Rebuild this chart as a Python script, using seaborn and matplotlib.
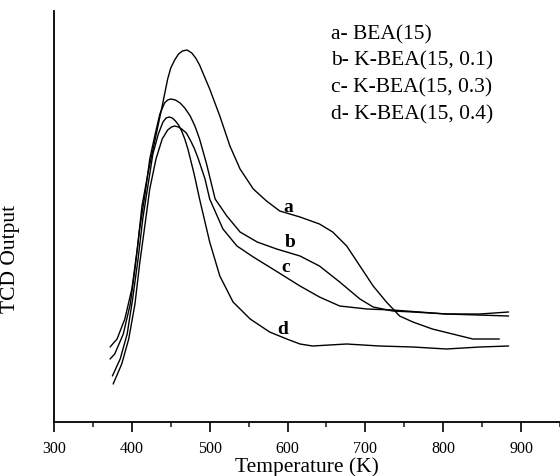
import matplotlib
matplotlib.use("Agg")
import matplotlib.pyplot as plt
import seaborn as sns
import pandas as pd
from matplotlib.ticker import MultipleLocator

T_a = [372, 381, 391, 400, 407, 413, 421, 430, 439, 446, 450, 455, 460, 465, 471, 477, 482, 487,
       500, 513, 526, 539, 556, 573, 590, 616, 641, 658, 676, 693, 710, 727, 744, 761, 786, 812,
       838, 856, 872]
S_a = [75, 83, 103, 133, 173, 216, 250, 283, 316, 343, 354, 362, 368, 371, 372, 369, 364, 357,
       333, 306, 276, 253, 233, 221, 211, 205, 198, 190, 176, 156, 136, 120, 106, 100, 93, 88,
       83, 83, 83]

T_b = [372, 378, 389, 398, 404, 410, 417, 423, 430, 436, 442, 446, 450, 456, 462, 468, 475, 481,
       487, 496, 507, 522, 539, 561, 586, 616, 641, 667, 693, 710, 735, 761, 804, 847, 884]
S_b = [63, 68, 88, 118, 153, 193, 228, 263, 288, 308, 319, 322, 323, 322, 319, 314, 306, 296,
       283, 258, 223, 206, 190, 180, 173, 166, 156, 140, 123, 115, 111, 110, 108, 108, 110]

T_c = [376, 387, 396, 404, 410, 417, 423, 431, 439, 446, 451, 455, 460, 464, 470, 475, 480, 485,
       494, 500, 517, 535, 556, 581, 616, 641, 667, 702, 735, 804, 884]
S_c = [38, 58, 83, 118, 158, 198, 233, 263, 283, 292, 295, 296, 295, 293, 289, 282, 274, 264,
       243, 223, 193, 176, 165, 153, 136, 125, 116, 113, 112, 108, 106]

T_d = [375, 385, 394, 401, 408, 414, 421, 427, 434, 440, 444, 448, 452, 456, 460, 464, 468, 472,
       480, 487, 500, 513, 530, 552, 577, 599, 616, 632, 676, 718, 761, 804, 847, 884]
S_d = [46, 63, 88, 123, 163, 203, 238, 268, 288, 300, 304, 305, 304, 301, 297, 291, 283, 273,
       248, 223, 180, 146, 120, 103, 90, 83, 78, 76, 78, 76, 75, 73, 75, 76]

legend_lines = ["a- BEA(15)", "b- K-BEA(15, 0.1)", "c- K-BEA(15, 0.3)", "d- K-BEA(15, 0.4)"]
curve_letters = ["a", "b", "c", "d"]
letter_pos_T = [601, 603, 598, 594]
letter_pos_S = [216, 180, 156, 94]

x_ticks = [300, 400, 500, 600, 700, 800, 900]

sns.set_theme(style="white")
plt.rcParams["font.family"] = ["Liberation Serif", "DejaVu Serif"]

fig = plt.figure(figsize=(5.6, 4.77), dpi=100)
ax = fig.add_axes([54 / 560, 54 / 477, 1 - 54 / 560, 411 / 477])

curves = [(T_a, S_a), (T_b, S_b), (T_c, S_c), (T_d, S_d)]
for (tx, sy), lab in zip(curves, curve_letters):
    df = pd.DataFrame({"T": tx, "S": sy})
    sns.lineplot(data=df, x="T", y="S", ax=ax, color="black", linewidth=1.0, estimator=None)

for lab, tx, sy in zip(curve_letters, letter_pos_T, letter_pos_S):
    ax.text(tx, sy, lab, fontsize=14, fontweight="bold", ha="center", va="center", color="black")

for i, line in enumerate(legend_lines):
    ax.text(0.547, 0.945 - i * 0.065, line, transform=ax.transAxes, fontsize=15.5,
            ha="left", va="center", color="black")

ax.set_xlim(300, 950)
ax.set_ylim(0, 411)
ax.set_xticks(x_ticks)
ax.xaxis.set_minor_locator(MultipleLocator(50))
ax.set_yticks([])
ax.tick_params(axis="x", which="major", direction="out", length=7, width=1.2,
               labelsize=11.5, bottom=True, pad=6, colors="black")
ax.tick_params(axis="x", which="minor", direction="out", length=3.6, width=1.2, bottom=True)
ax.set_xlabel("Temperature (K)", fontsize=15.5, labelpad=0, color="black")
ax.set_ylabel("TCD Output", fontsize=15.5, color="black")
ax.yaxis.set_label_coords(-0.068, 0.40)

for side in ["top", "right"]:
    ax.spines[side].set_visible(False)
for side in ["left", "bottom"]:
    ax.spines[side].set_color("black")
    ax.spines[side].set_linewidth(1.3)

fig.savefig("out.png", dpi=100)
